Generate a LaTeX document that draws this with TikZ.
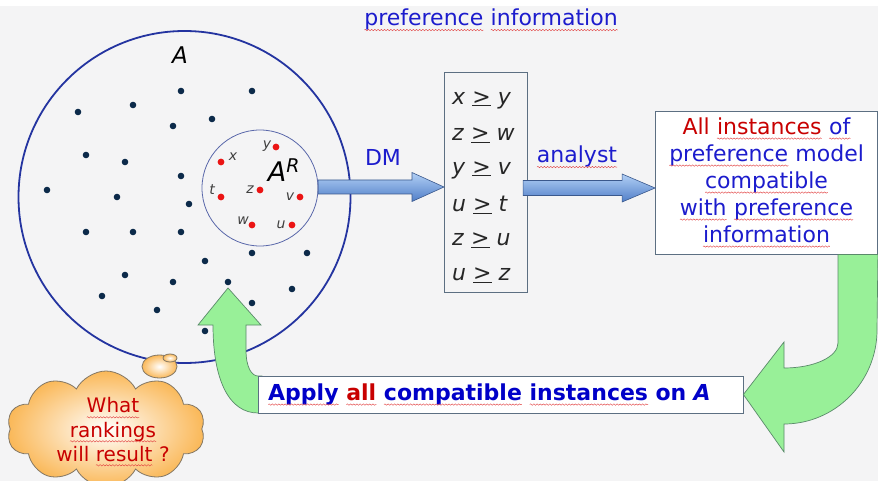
\documentclass[tikz,border=0pt]{standalone}
\usepackage{fontspec}
\setmainfont{DejaVu Sans}
\usetikzlibrary{shapes.symbols,calc,decorations.pathmorphing}
\definecolor{bgc}{RGB}{244,244,245}
\definecolor{txtblue}{RGB}{28,28,205}
\definecolor{boldblue}{RGB}{0,0,200}
\definecolor{txtred}{RGB}{200,0,0}
\definecolor{dotnavy}{RGB}{12,42,74}
\definecolor{dotred}{RGB}{235,20,20}
\definecolor{setblue}{RGB}{36,52,160}
\definecolor{subblue}{RGB}{90,104,170}
\definecolor{boxgray}{RGB}{92,111,130}
\definecolor{arrtop}{RGB}{178,208,245}
\definecolor{arrbot}{RGB}{80,126,200}
\definecolor{arredge}{RGB}{58,88,140}
\definecolor{gfill}{RGB}{152,240,152}
\definecolor{gedge}{RGB}{90,138,106}
\definecolor{cloudor}{RGB}{250,184,88}
\definecolor{cloudedge}{RGB}{130,118,100}
\definecolor{wavered}{RGB}{225,60,60}
\newcommand\fsz[2]{\fontsize{#1}{#2}\selectfont}
% word with a red wavy underline
\newcommand\spl[2][txtblue]{\tikz[baseline=(w.base)]{%
  \node[rectangle, draw=none, fill=none, inner sep=0pt, outer sep=0pt,
        minimum width=0pt, minimum height=0pt, text width=, align=left,
        anchor=base, text=#1] (w) {#2};
  \draw[wavered, line width=0.4pt, decorate,
        decoration={snake, amplitude=0.7pt, segment length=3.2pt}]
    ([yshift=-4.3pt]w.base west) -- ([yshift=-4.3pt]w.base east);}}
\begin{document}
\begin{tikzpicture}[x=1pt,y=-1pt,
  navydot/.style={fill=dotnavy},
  reddot/.style={fill=dotred},
  ptlabel/.style={font=\fsz{14}{14}\itshape, text=black!75, inner sep=0pt},
  rel/.style={font=\fsz{22}{22}, text=black!85, anchor=west, inner sep=0pt},
  flatbox/.style={draw=boxgray, line width=0.8pt, rectangle, inner sep=0pt},
  bluearrow/.style={top color=arrtop, bottom color=arrbot, draw=arredge, line width=0.6pt},
  greenarrow/.style={fill=gfill, draw=gedge, line width=0.7pt},
  bluetext/.style={text=txtblue, font=\fsz{22}{22}}
]
\useasboundingbox (0,0) rectangle (878,481);
\fill[bgc] (0,6) rectangle (878,481);

% the set A and the reference subset
\node[circle, draw=setblue, line width=1.8pt, minimum size=332pt, inner sep=0pt] (setA) at (184.5,197) {};
\node[font=\fsz{23}{23}\itshape, inner sep=0pt] (labA) at (180,55) {A};
\foreach \p in {(181,91),(252,91),(78,112),(133,105),(173,126),(212,119),(86,155),(125,162),(181,176),(47,190),(117,197),(189,204),(86,232),(133,232),(181,232),(252,253),(307,253),(205,261),(125,275),(173,282),(228,282),(292,289),(102,296),(252,303),(157,310),(205,331)}
  \fill[navydot] \p circle (3.3);

% DM arrow
\node[flatbox, minimum width=83pt, minimum height=220pt] (prefs) at (485.5,182) {};
\coordinate (dmTip) at (444,187);
\shade[bluearrow] (dmTip) -- ++(-32,-14.5) -- ++(0,7.5) -- ++(-94,0) -- ++(0,14) -- ++(94,0) -- ++(0,7.5) -- cycle;

\node[circle, draw=subblue, line width=0.8pt, minimum size=116pt, inner sep=0pt] (setAR) at (260,188) {};
\node[font=\fsz{27}{27}\itshape, inner sep=0pt] (labAR) at (284,170) {A\textsuperscript{R}};
\foreach \p in {(221,162),(276,147),(221,197),(260,190),(300,197),(252,225),(292,225)}
  \fill[reddot] \p circle (3.4);
\node[ptlabel] (lx) at (233,157) {x};
\node[ptlabel] (ly) at (267,146) {y};
\node[ptlabel] (lt) at (212,190) {t};
\node[ptlabel] (lz) at (250,190) {z};
\node[ptlabel] (lv) at (290,197) {v};
\node[ptlabel] (lw) at (243,221) {w};
\node[ptlabel] (lu) at (281,225) {u};

% preference statements
\node[rel] (r1) at (452,100) {\textit{x} \underline{>} \textit{y}};
\node[rel] (r2) at (452,135) {\textit{z} \underline{>} \textit{w}};
\node[rel] (r3) at (452,170) {\textit{y} \underline{>} \textit{v}};
\node[rel] (r4) at (452,205) {\textit{u} \underline{>} \textit{t}};
\node[rel] (r5) at (452,240) {\textit{z} \underline{>} \textit{u}};
\node[rel] (r6) at (452,275) {\textit{u} \underline{>} \textit{z}};

% title and arrow labels
\node[bluetext] (title) at (491,20) {\spl{preference} \spl{information}};
\node[bluetext] (lblDM) at (383,157) {DM};
\node[bluetext] (lblAn) at (577,157) {\spl{analyst}};

% model box and analyst arrow
\node[flatbox, fill=white, minimum width=222pt, minimum height=143pt, align=center, font=\fsz{22}{27}, text=txtblue] (model) at (766.5,182.5)
  {{\color{txtred}All} \spl[txtred]{instances} \spl{of}\\ \spl{preference} model\\ \spl{compatible}\\ \spl{with} \spl{preference}\\ \spl{information}};
\coordinate (anTip) at (model.west |- dmTip);
\shade[bluearrow] ($(anTip)+(0,1)$) -- ++(-33,-14) -- ++(0,6.5) -- ++(-99,0) -- ++(0,15) -- ++(99,0) -- ++(0,6.5) -- cycle;

% return arrows
\coordinate (upTip) at (228,288);
\coordinate (applyNW) at (262,376);
\coordinate (applySW) at (262,413);
\path[greenarrow] (applySW) -- (258,413) .. controls (230,413) and (213,382) .. (213,325) -- (198,325) -- (upTip) -- (261,325) -- (246,325) -- (246,350) .. controls (246,368) and (252,376) .. (258,376) -- (applyNW) -- cycle;

\node[flatbox, fill=white, text width=465pt, minimum height=37pt, inner xsep=10pt, align=left, font=\fsz{22}{22}\bfseries, text=boldblue] (apply) at (500.5,394.5)
  {\spl[boldblue]{Apply} \spl[txtred]{all} \spl[boldblue]{compatible} \spl[boldblue]{instances} on \textit{A}};

\path[greenarrow] (model.south -| 838,0) -- (838,343) .. controls (838,357) and (814,368) .. (784,368) -- (784,342) -- (apply.east) -- (784,452) -- (784,424) .. controls (835,424) and (877,382) .. (877,330) -- (model.south east) -- cycle;

% thought cloud
\node[cloud, cloud puffs=10, cloud puff arc=125, aspect=1.75, draw=cloudedge, line width=0.8pt, inner color=white, outer color=cloudor, minimum width=198pt, minimum height=116pt] (cloud) at (106,429) {};
\node[align=center, font=\fsz{20}{24}, text=txtred] (question) at (113,432) {\spl[txtred]{What}\\ \spl[txtred]{rankings}\\ will \spl[txtred]{result} ?};
\shade[inner color=white, outer color=cloudor, draw=cloudedge, line width=0.8pt] (159.5,366.5) ellipse (17.5 and 11.5);
\shade[inner color=white, outer color=cloudor, draw=cloudedge, line width=0.8pt] (170,358) ellipse (7 and 4);
\end{tikzpicture}
\end{document}
